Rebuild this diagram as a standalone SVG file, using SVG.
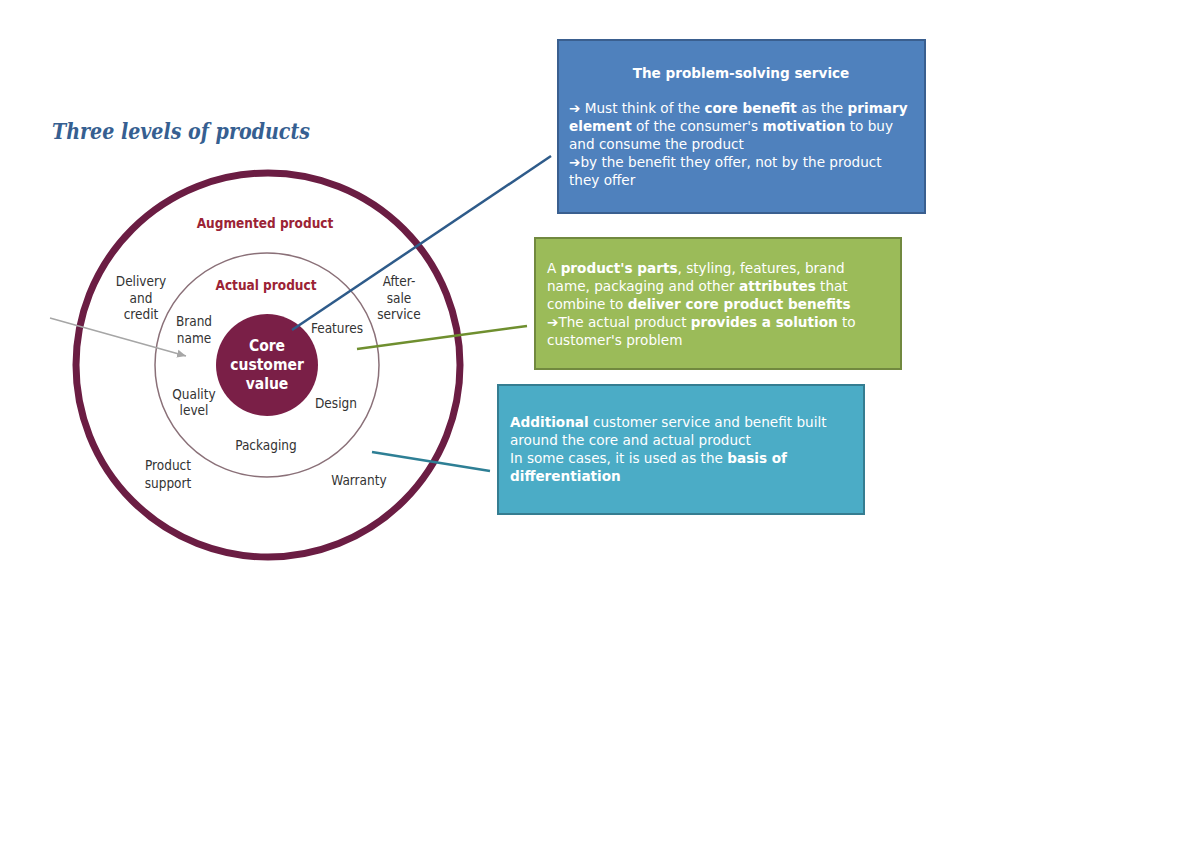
<svg xmlns="http://www.w3.org/2000/svg" width="1200" height="849" viewBox="0 0 1200 849">
<style>
.lbl{font-family:"DejaVu Sans Condensed","Liberation Sans",sans-serif;font-size:13.5px;fill:#333;text-anchor:middle}
.hd{font-family:"DejaVu Sans Condensed","Liberation Sans",sans-serif;font-size:13.5px;font-weight:bold;fill:#9b2335;text-anchor:middle}
.core{font-family:"DejaVu Sans Condensed","Liberation Sans",sans-serif;font-size:15.5px;font-weight:bold;fill:#fff;text-anchor:middle}
.bt{font-family:"DejaVu Sans","Liberation Sans",sans-serif;font-size:13.6px;fill:#fff}
.b{font-weight:bold}
.conn{fill:none;stroke-width:2.5}
</style>
<defs>
<marker id="ah" markerWidth="10" markerHeight="10" refX="9" refY="5" orient="auto" markerUnits="userSpaceOnUse">
<path d="M0,1 L9,5 L0,9 Z" fill="#a6a6a6"/>
</marker>
</defs>
<rect width="1200" height="849" fill="#fff"/>
<text x="52" y="139" font-family="'DejaVu Serif','Liberation Serif',serif" font-style="italic" font-weight="bold" font-size="23" fill="#365f91" textLength="258" lengthAdjust="spacingAndGlyphs">Three levels of products</text>

<g id="diagram">
<circle cx="268" cy="367" r="193" fill="#000" opacity="0.08"/>
<circle cx="268" cy="365" r="192" fill="#fff" stroke="#6b1d43" stroke-width="7"/>
<circle cx="267" cy="365" r="112" fill="#fff" stroke="#8a7078" stroke-width="1.5"/>
<circle cx="267" cy="365" r="51" fill="#7a1f47"/>
<text class="hd" x="265" y="228">Augmented product</text>
<text class="hd" x="266" y="290">Actual product</text>
<text class="core" x="267" y="351">Core</text>
<text class="core" x="267" y="370">customer</text>
<text class="core" x="267" y="389">value</text>
<text class="lbl" x="141" y="286">Delivery</text>
<text class="lbl" x="141" y="303">and</text>
<text class="lbl" x="141" y="319">credit</text>
<text class="lbl" x="399" y="286">After-</text>
<text class="lbl" x="399" y="303">sale</text>
<text class="lbl" x="399" y="319">service</text>
<text class="lbl" x="194" y="326">Brand</text>
<text class="lbl" x="194" y="343">name</text>
<text class="lbl" x="337" y="333">Features</text>
<text class="lbl" x="194" y="399">Quality</text>
<text class="lbl" x="194" y="415">level</text>
<text class="lbl" x="336" y="408">Design</text>
<text class="lbl" x="266" y="450">Packaging</text>
<text class="lbl" x="168" y="470">Product</text>
<text class="lbl" x="168" y="488">support</text>
<text class="lbl" x="359" y="485">Warranty</text>
<line x1="50" y1="318" x2="186" y2="356" stroke="#a6a6a6" stroke-width="1.5" marker-end="url(#ah)"/>
</g>

<g id="connectors">
<line class="conn" x1="551" y1="156" x2="292" y2="330" stroke="#2e5b8a"/>
<line class="conn" x1="527" y1="326" x2="357" y2="349" stroke="#6f8f2f"/>
<line class="conn" x1="490" y1="471" x2="372" y2="452" stroke="#2e7f95"/>
</g>

<g id="box-core">
<rect x="558" y="40" width="367" height="173" fill="#4f81bd" stroke="#3a5f8f" stroke-width="2"/>
<text class="bt b" x="741" y="78" text-anchor="middle">The problem-solving service</text>
<text class="bt" x="569" y="113">➔ Must think of the <tspan class="b">core benefit</tspan> as the <tspan class="b">primary</tspan></text>
<text class="bt" x="569" y="131"><tspan class="b">element</tspan> of the consumer's <tspan class="b">motivation</tspan> to buy</text>
<text class="bt" x="569" y="149">and consume the product</text>
<text class="bt" x="569" y="167">➔by the benefit they offer, not by the product</text>
<text class="bt" x="569" y="185">they offer</text>
</g>

<g id="box-actual">
<rect x="535" y="238" width="366" height="131" fill="#9bbb59" stroke="#71893f" stroke-width="2"/>
<text class="bt" x="547" y="273">A <tspan class="b">product's parts</tspan>, styling, features, brand</text>
<text class="bt" x="547" y="291">name, packaging and other <tspan class="b">attributes</tspan> that</text>
<text class="bt" x="547" y="309">combine to <tspan class="b">deliver core product benefits</tspan></text>
<text class="bt" x="547" y="327">➔The actual product <tspan class="b">provides a solution</tspan> to</text>
<text class="bt" x="547" y="345">customer's problem</text>
</g>

<g id="box-augmented">
<rect x="498" y="385" width="366" height="129" fill="#4bacc6" stroke="#357d91" stroke-width="2"/>
<text class="bt" x="510" y="427"><tspan class="b">Additional</tspan> customer service and benefit built</text>
<text class="bt" x="510" y="445">around the core and actual product</text>
<text class="bt" x="510" y="463">In some cases, it is used as the <tspan class="b">basis of</tspan></text>
<text class="bt" x="510" y="481"><tspan class="b">differentiation</tspan></text>
</g>
</svg>
